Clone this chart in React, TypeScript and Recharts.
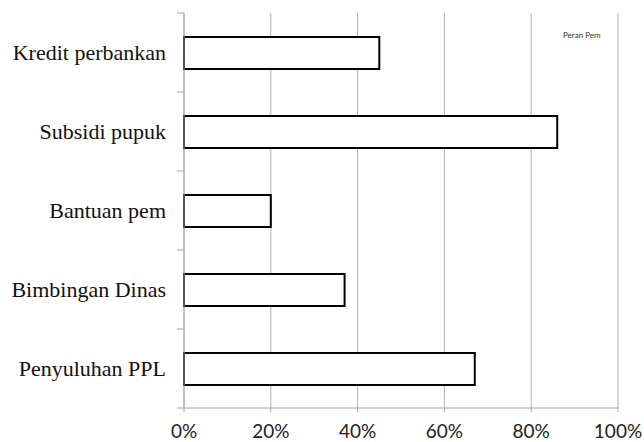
import { BarChart, Bar, XAxis, YAxis, CartesianGrid, Legend } from 'recharts';

const categories = ['Kredit perbankan', 'Subsidi pupuk', 'Bantuan pem', 'Bimbingan Dinas', 'Penyuluhan PPL'];
const peranPem = [45, 86, 20, 37, 67];
const xTicks = [0, 20, 40, 60, 80, 100];
const seriesName = 'Peran Pem';

const data = categories.map((name, i) => ({ name, value: peranPem[i] }));

const WIDTH = 644;
const HEIGHT = 442;
const MARGIN = { top: 13, right: 26, bottom: 0, left: 0 };
const X_AXIS_H = 34;
const Y_AXIS_W = 184;
const PLOT_H = HEIGHT - MARGIN.top - MARGIN.bottom - X_AXIS_H;
const STEP = PLOT_H / categories.length;
const AXIS_GREY = '#a6a6a6';

// label at band centre, tick mark at band boundaries (Excel style)
const CategoryTick = (props: any) => {
    const { x, y, payload, index } = props;
    const lineX1 = x + 11;
    const lineX2 = x + 18;
    return (
        <g>
            <text
                x={x}
                y={y}
                textAnchor="end"
                dominantBaseline="central"
                fill="#111"
                style={{ fontFamily: '"Liberation Serif", "DejaVu Serif", serif', fontSize: 22 }}
            >
                {payload.value}
            </text>
            <line x1={lineX1} x2={lineX2} y1={y - STEP / 2} y2={y - STEP / 2} stroke={AXIS_GREY} />
            {index === categories.length - 1 && (
                <line x1={lineX1} x2={lineX2} y1={y + STEP / 2} y2={y + STEP / 2} stroke={AXIS_GREY} />
            )}
        </g>
    );
};

const LegendBox = () => (
    <div style={{ fontFamily: 'Lato, "Liberation Sans", sans-serif', fontSize: 8, color: '#333', whiteSpace: 'nowrap' }}>
        {seriesName}
    </div>
);

const App = () => {
    return (
        <div style={{ position: 'absolute', left: 0, top: 0, background: '#fff' }}>
            <BarChart width={WIDTH} height={HEIGHT} data={data} layout="vertical" margin={MARGIN}>
                <CartesianGrid horizontal={false} stroke="#b3b3b3" strokeWidth={1} />
                <XAxis
                    type="number"
                    domain={[0, 100]}
                    ticks={xTicks}
                    tickFormatter={(v) => `${v}%`}
                    height={X_AXIS_H}
                    stroke={AXIS_GREY}
                    tickSize={4}
                    tickMargin={13}
                    tick={{ fill: '#222', fontSize: 19, fontFamily: 'Lato, "Open Sans", sans-serif' }}
                />
                <YAxis
                    type="category"
                    dataKey="name"
                    width={Y_AXIS_W}
                    stroke={AXIS_GREY}
                    tickLine={false}
                    tickSize={7}
                    tickMargin={11}
                    tick={<CategoryTick />}
                    interval={0}
                />
                <Legend
                    layout="vertical"
                    align="center"
                    verticalAlign="middle"
                    content={<LegendBox />}
                    wrapperStyle={{ left: 563, top: 30, width: 'auto', height: 'auto' }}
                />
                <Bar
                    dataKey="value"
                    name={seriesName}
                    fill="#ffffff"
                    stroke="#000000"
                    strokeWidth={2}
                    barSize={32}
                    isAnimationActive={false}
                />
            </BarChart>
        </div>
    );
};

export default App;
